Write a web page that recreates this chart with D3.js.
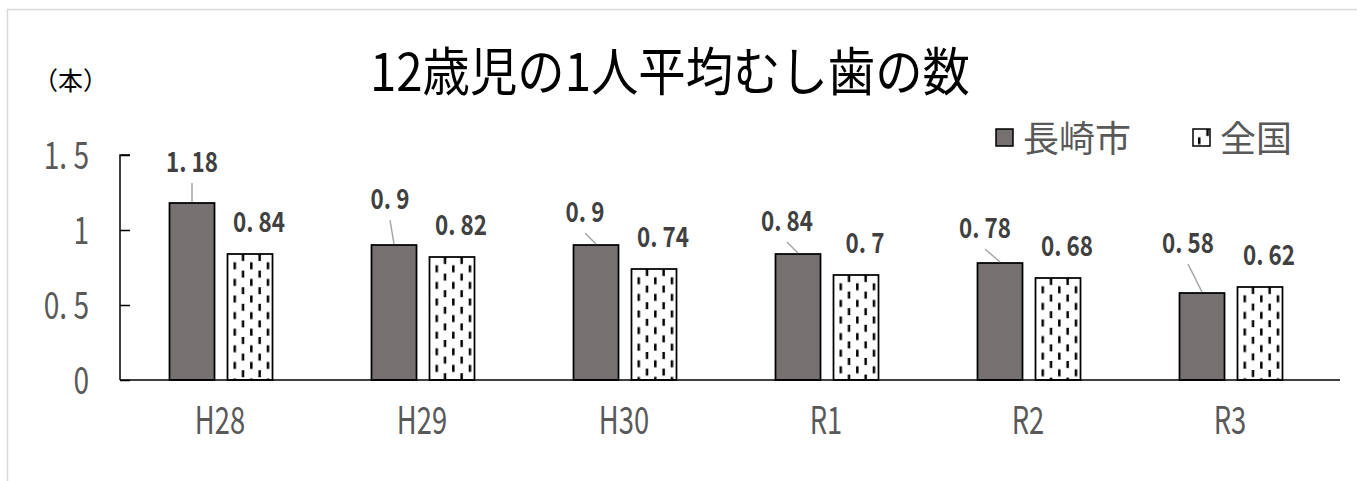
<!DOCTYPE html>
<html>
<head>
<meta charset="utf-8">
<script src="https://cdn.jsdelivr.net/npm/d3@7"></script>
<style>
  html, body { margin: 0; padding: 0; background: #fff; }
  svg { display: block; font-family: "Noto Sans CJK JP", "Noto Sans", sans-serif; }
</style>
</head>
<body>
<svg id="chart" width="1357" height="481"></svg>
<script>
// School years on the x axis
const years = ["H28", "H29", "H30", "R1", "R2", "R3"];
// Average decayed teeth per 12-year-old
const nagasaki = [1.18, 0.9, 0.9, 0.84, 0.78, 0.58];
const national = [0.84, 0.82, 0.74, 0.7, 0.68, 0.62];
const seriesNames = ["長崎市", "全国"];
const yTicks = [0, 0.5, 1, 1.5];
const titleText = "12歳児の1人平均むし歯の数";
const unitText = "（本）";

// Hand-placed label offsets for the 長崎市 values: [dx from bar centre, rise above bar top]
const cityLabelNudge = [[0, 31], [-4, 36], [-11, 23], [-11, 23], [-15, 25], [-14, 40]];

const svg = d3.select("#chart");
const fmt = v => String(v).replace(".", ". ");

// squeeze text horizontally to mimic a narrow Gothic face
function condense(sel, k) {
  sel.each(function () {
    const w = this.getComputedTextLength();
    d3.select(this).attr("textLength", w * k).attr("lengthAdjust", "spacingAndGlyphs");
  });
}

// chart area frame
svg.append("rect")
  .attr("x", 7.5).attr("y", 9.5).attr("width", 1400).attr("height", 600)
  .attr("fill", "#fff").attr("stroke", "#d9d9d9").attr("stroke-width", 1.5);

const x0 = d3.scaleBand().domain(years).range([120, 1332]).paddingInner(0).paddingOuter(0);
const x1 = d3.scaleBand().domain(seriesNames).range([49.5, 152.5]).paddingInner(0.224).paddingOuter(0);
const y = d3.scaleLinear().domain([0, 1.5]).range([380, 155]);

const defs = svg.append("defs");
const tile = 16.6;
function addPattern(id, px, py) {
  const p = defs.append("pattern").attr("id", id)
    .attr("patternUnits", "userSpaceOnUse")
    .attr("x", px).attr("y", py).attr("width", tile).attr("height", tile);
  p.append("rect").attr("width", tile).attr("height", tile).attr("fill", "#fff");
  p.append("rect").attr("x", 0).attr("y", tile / 2).attr("width", 2.5).attr("height", 7).attr("fill", "#000");
  p.append("rect").attr("x", tile / 2).attr("y", 0).attr("width", 2.5).attr("height", 7).attr("fill", "#000");
}

const cityColor = "#767171";

// title
svg.append("text")
  .attr("x", 670).attr("y", 91).attr("text-anchor", "middle")
  .attr("font-size", 52).attr("fill", "#000")
  .text(titleText)
  .call(t => t.attr("textLength", 600).attr("lengthAdjust", "spacingAndGlyphs"));

// unit label
svg.append("text")
  .attr("x", 33).attr("y", 90).attr("font-size", 25).attr("fill", "#000")
  .text(unitText);

// y axis
const yAxis = d3.axisRight(y).tickValues(yTicks).tickSize(10).tickFormat("");
const gy = svg.append("g").attr("transform", "translate(120,0)").call(yAxis);
gy.select(".domain").attr("stroke", "#000").attr("stroke-width", 1.5).attr("d", `M10,${y(1.5)}H0V${y(0)}`);
gy.selectAll(".tick line").attr("stroke", "#000").attr("stroke-width", 1.5);

svg.append("g").selectAll("text").data(yTicks).join("text")
  .attr("x", 89).attr("y", d => y(d)).attr("dy", "0.36em")
  .attr("text-anchor", "end").attr("font-size", 38).attr("fill", "#595959")
  .text(fmt)
  .call(condense, 0.74);

// bars
const rows = years.map((yr, i) => ({ yr, i, city: nagasaki[i], nat: national[i] }));

const g = svg.append("g");
rows.forEach(r => {
  const bx = x0(r.yr) + x1("全国");
  addPattern("pat" + r.i, bx + 6, y(r.nat));
});

g.selectAll("rect.city").data(rows).join("rect").attr("class", "city")
  .attr("x", d => x0(d.yr) + x1("長崎市")).attr("y", d => y(d.city))
  .attr("width", x1.bandwidth()).attr("height", d => y(0) - y(d.city))
  .attr("fill", cityColor).attr("stroke", "#000").attr("stroke-width", 1.75);

g.selectAll("rect.nat").data(rows).join("rect").attr("class", "nat")
  .attr("x", d => x0(d.yr) + x1("全国")).attr("y", d => y(d.nat))
  .attr("width", x1.bandwidth()).attr("height", d => y(0) - y(d.nat))
  .attr("fill", d => `url(#pat${d.i})`).attr("stroke", "#000").attr("stroke-width", 1.75);

// x axis
const xAxis = d3.axisBottom(x0).tickSize(0).tickFormat("");
const gx = svg.append("g").attr("transform", `translate(0,${y(0)})`).call(xAxis);
gx.select(".domain").attr("stroke", "#000").attr("stroke-width", 1.5).attr("d", "M120,0H1340");

svg.append("g").selectAll("text").data(years).join("text")
  .attr("x", d => x0(d) + x0.bandwidth() / 2 - 1).attr("y", 434)
  .attr("text-anchor", "middle").attr("font-size", 38).attr("fill", "#595959")
  .text(d => d)
  .call(condense, 0.72);

// value labels for 長崎市 with leader lines
const cityCx = d => x0(d.yr) + x1("長崎市") + x1.bandwidth() / 2;
const cityLx = d => cityCx(d) + cityLabelNudge[d.i][0];
const cityLy = d => y(d.city) - cityLabelNudge[d.i][1];

svg.append("g").selectAll("line").data(rows).join("line")
  .attr("x1", d => cityLx(d)).attr("y1", d => cityLy(d) + 11)
  .attr("x2", d => cityCx(d)).attr("y2", d => y(d.city) - 1)
  .attr("stroke", "#a6a6a6").attr("stroke-width", 1.5);

const labelStyle = t => t.attr("text-anchor", "middle").attr("font-size", 28)
  .attr("font-weight", "bold").attr("fill", "#404040");

svg.append("g").selectAll("text").data(rows).join("text")
  .attr("x", cityLx).attr("y", cityLy)
  .call(labelStyle)
  .text(d => fmt(d.city))
  .call(condense, 0.8);

// value labels for 全国
svg.append("g").selectAll("text").data(rows).join("text")
  .attr("x", d => x0(d.yr) + x1("全国") + x1.bandwidth() / 2 + 9)
  .attr("y", d => y(d.nat) - 22)
  .call(labelStyle)
  .text(d => fmt(d.nat))
  .call(condense, 0.8);

// legend
addPattern("patLegend", 1198, 129);
const legend = [
  { name: seriesNames[0], sx: 996, fill: cityColor },
  { name: seriesNames[1], sx: 1193, fill: "url(#patLegend)" }
];
const lg = svg.append("g");
lg.selectAll("rect").data(legend).join("rect")
  .attr("x", d => d.sx).attr("y", 129).attr("width", 17).attr("height", 17)
  .attr("fill", d => d.fill).attr("stroke", "#000").attr("stroke-width", 1.5);
lg.selectAll("text").data(legend).join("text")
  .attr("x", d => d.sx + 27).attr("y", 152)
  .attr("font-size", 36).attr("fill", "#595959")
  .text(d => d.name);
</script>
</body>
</html>
